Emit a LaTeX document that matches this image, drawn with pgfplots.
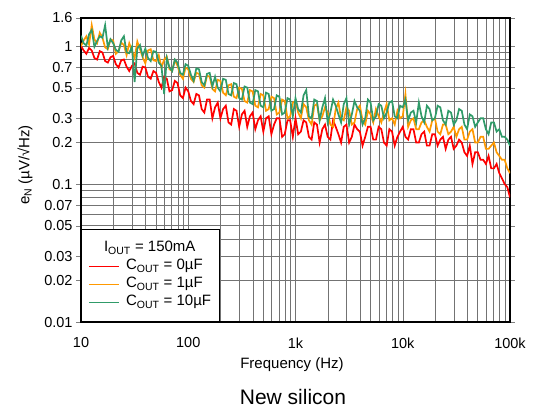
\documentclass[border=0pt]{standalone}
\usepackage{fontspec}
\setmainfont{Liberation Sans}
\usepackage{pgfplots}
\usepackage{pgfplotstable}
\pgfplotsset{compat=1.18}

\definecolor{cred}{RGB}{255,0,0}
\definecolor{corange}{RGB}{255,153,0}
\definecolor{cgreen}{RGB}{48,155,105}

% noise density, uV/rtHz: r = 0uF, o = 1uF, g = 10uF
\pgfplotstableread{
f r o g
10 1.00 1.00 1.19
10.59 0.93 1.10 1.05
11.22 0.88 1.18 1.01
11.89 0.97 1.03 1.22
12.59 0.93 1.42 1.31
13.34 0.82 1.12 0.99
14.13 0.80 1.05 1.09
14.96 0.92 1.25 1.18
15.85 0.90 1.15 1.15
16.79 0.78 0.98 1.42
17.78 0.76 0.95 0.98
18.84 0.83 1.12 1.12
19.95 0.85 1.10 1.05
21.13 0.74 0.88 0.94
22.39 0.70 0.92 0.91
23.71 0.79 1.06 1.10
25.12 0.80 1.02 1.18
26.61 0.71 0.86 0.90
28.18 0.66 1.05 0.89
29.85 0.72 0.93 0.99
31.62 0.75 0.82 0.55
33.50 0.64 1.08 0.96
35.48 0.62 0.95 1.02
37.58 0.71 0.83 0.85
39.81 0.70 0.75 0.96
42.17 0.60 0.93 0.82
44.67 0.58 0.95 0.78
47.32 0.66 0.79 0.92
50.12 0.64 0.78 0.91
53.09 0.55 0.86 0.76
56.23 0.50 0.70 0.72
59.57 0.60 0.80 0.45
63.10 0.58 0.84 0.82
66.83 0.47 0.68 0.70
70.79 0.48 0.66 0.66
74.99 0.56 0.79 0.80
79.43 0.54 0.72 0.76
84.14 0.44 0.62 0.64
89.13 0.42 0.58 0.62
94.41 0.50 0.70 0.74
100 0.47 0.68 0.72
105.9 0.40 0.58 0.62
112.2 0.38 0.55 0.56
118.9 0.45 0.64 0.69
125.9 0.44 0.63 0.68
133.4 0.35 0.52 0.55
141.3 0.33 0.50 0.52
149.6 0.41 0.61 0.63
158.5 0.41 0.60 0.64
167.9 0.30 0.49 0.51
177.8 0.36 0.47 0.60
188.4 0.39 0.57 0.50
199.5 0.30 0.56 0.47
211.3 0.35 0.46 0.58
223.9 0.37 0.44 0.57
237.1 0.28 0.52 0.45
251.2 0.27 0.53 0.44
266.1 0.35 0.43 0.54
281.8 0.34 0.42 0.53
298.5 0.26 0.50 0.42
316.2 0.32 0.49 0.41
335.0 0.34 0.40 0.51
354.8 0.26 0.39 0.50
375.8 0.31 0.48 0.39
398.1 0.33 0.47 0.38
421.7 0.25 0.37 0.48
446.7 0.29 0.36 0.47
473.2 0.31 0.45 0.37
501.2 0.24 0.44 0.36
530.9 0.30 0.34 0.46
562.3 0.31 0.35 0.45
595.7 0.23 0.43 0.34
631.0 0.27 0.42 0.35
668.3 0.30 0.32 0.44
707.9 0.30 0.33 0.43
749.9 0.22 0.41 0.32
794.3 0.23 0.40 0.33
841.4 0.29 0.30 0.42
891.3 0.29 0.31 0.41
944.1 0.22 0.39 0.31
1000 0.30 0.40 0.42
1059 0.23 0.33 0.35
1122 0.24 0.30 0.33
1189 0.29 0.38 0.44
1259 0.28 0.36 0.48
1334 0.22 0.29 0.31
1413 0.21 0.27 0.30
1496 0.28 0.37 0.41
1585 0.27 0.38 0.40
1679 0.20 0.29 0.29
1778 0.25 0.31 0.36
1884 0.27 0.36 0.42
1995 0.22 0.33 0.28
2113 0.21 0.27 0.33
2239 0.29 0.26 0.41
2371 0.26 0.35 0.37
2512 0.23 0.39 0.32
2661 0.20 0.30 0.28
2818 0.26 0.29 0.38
2985 0.27 0.36 0.42
3162 0.20 0.34 0.27
3350 0.22 0.27 0.32
3548 0.27 0.28 0.40
3758 0.25 0.35 0.36
3981 0.24 0.37 0.34
4217 0.19 0.29 0.27
4467 0.22 0.27 0.30
4732 0.26 0.34 0.41
5012 0.26 0.32 0.39
5309 0.21 0.28 0.29
5623 0.21 0.35 0.31
5957 0.26 0.31 0.38
6310 0.25 0.28 0.37
6683 0.20 0.33 0.30
7079 0.19 0.38 0.33
7499 0.25 0.29 0.39
7943 0.24 0.30 0.40
8414 0.19 0.27 0.31
8913 0.22 0.34 0.30
9441 0.24 0.30 0.37
10000 0.26 0.31 0.36
10590 0.22 0.45 0.41
11220 0.21 0.26 0.29
11890 0.25 0.29 0.33
12590 0.25 0.30 0.34
13340 0.20 0.25 0.28
14130 0.20 0.25 0.39
14960 0.23 0.28 0.31
15850 0.24 0.29 0.28
16790 0.19 0.26 0.37
17780 0.19 0.24 0.35
18840 0.23 0.29 0.29
19950 0.23 0.30 0.30
21130 0.19 0.24 0.37
22390 0.21 0.23 0.36
23710 0.22 0.27 0.29
25120 0.18 0.27 0.27
26610 0.21 0.23 0.34
28180 0.22 0.24 0.33
29850 0.18 0.26 0.27
31620 0.19 0.22 0.29
33500 0.21 0.25 0.35
35480 0.20 0.26 0.34
37580 0.17 0.21 0.27
39810 0.16 0.21 0.25
42170 0.19 0.24 0.32
44670 0.14 0.25 0.31
47320 0.17 0.20 0.26
50120 0.17 0.20 0.28
53090 0.15 0.22 0.30
56230 0.15 0.22 0.30
59570 0.14 0.18 0.25
63100 0.16 0.18 0.23
66830 0.13 0.19 0.28
70790 0.13 0.20 0.28
74990 0.14 0.17 0.24
79430 0.12 0.16 0.25
84140 0.11 0.15 0.22
89130 0.10 0.15 0.22
94410 0.095 0.13 0.21
100000 0.08 0.12 0.19
}\noise

\begin{document}
\begin{tikzpicture}[x=1bp,y=1bp]
\useasboundingbox (0,0) rectangle (533,409);
\begin{axis}[
    at={(81bp,87bp)}, anchor=south west,
    scale only axis, width=429bp, height=304bp,
    xmode=log, ymode=log,
    xmin=10, xmax=100000, ymin=0.01, ymax=1.6,
    xtick={10,100,1000,10000,100000},
    xticklabels={10,100,1k,10k,100k},
    minor xtick={20,30,40,50,60,70,80,90,200,300,400,500,600,700,800,900,
        2000,3000,4000,5000,6000,7000,8000,9000,
        20000,30000,40000,50000,60000,70000,80000,90000},
    ytick={0.01,0.02,0.03,0.05,0.07,0.1,0.2,0.3,0.5,0.7,1,1.6},
    yticklabels={0.01,0.02,0.03,0.05,0.07,0.1,0.2,0.3,0.5,0.7,1,1.6},
    minor ytick={0.04,0.06,0.08,0.09,0.4,0.6,0.8,0.9},
    grid=both,
    major grid style={black!55, line width=0.5bp},
    minor grid style={black!55, line width=0.5bp},
    axis line style={line width=1.4bp},
    tick align=outside, major tick length=5bp, minor tick length=0pt,
    xtick style={draw=none},
    ticklabel style={font=\fontsize{14.5bp}{17bp}\selectfont},
    xticklabel style={yshift=-7bp},
    legend style={at={(0,0)}, anchor=south west, draw=black, line width=1.3bp,
        fill=white, font=\fontsize{15bp}{18bp}\selectfont,
        inner xsep=7bp, inner ysep=10bp, row sep=0pt,
        nodes={inner sep=1.5bp, text height=11bp, text depth=4bp},
        cells={anchor=west},
        /tikz/every odd column/.append style={column sep=5bp}},
    legend image code/.code={\draw[#1, line width=0.9bp] (0bp,0bp) -- (30bp,0bp);},
]
\addlegendimage{empty legend}
\addlegendentry{\hspace{-22bp}I\textsubscript{OUT} = 150mA}
\addplot[cred, line width=1.7bp] table[x=f, y=r] {\noise};
\addlegendentry{C\textsubscript{OUT} = 0µF}
\addplot[corange, line width=1.7bp] table[x=f, y=o] {\noise};
\addlegendentry{C\textsubscript{OUT} = 1µF}
\addplot[cgreen, line width=1.7bp] table[x=f, y=g] {\noise};
\addlegendentry{C\textsubscript{OUT} = 10µF}
\end{axis}
\node[anchor=base, font=\fontsize{15bp}{18bp}\selectfont] at (292,41) {Frequency (Hz)};
\node[anchor=base, font=\fontsize{21bp}{25bp}\selectfont] at (293,5) {New silicon};
\node[rotate=90, font=\fontsize{15bp}{18bp}\selectfont] at (25,244) {e\textsubscript{N} (µV/√Hz)};
\end{tikzpicture}
\end{document}
